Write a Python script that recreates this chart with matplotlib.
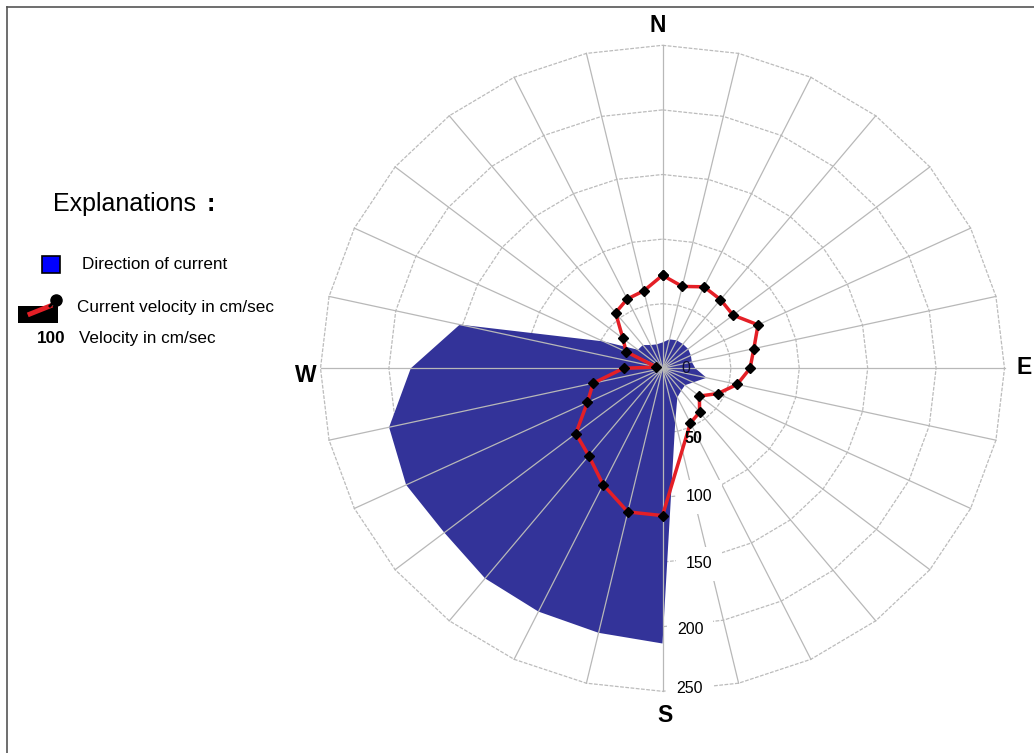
import numpy as np
import matplotlib
matplotlib.use('Agg')
import matplotlib.pyplot as plt
from matplotlib.lines import Line2D
from matplotlib.patches import Rectangle

plt.rcParams['font.family'] = ['Liberation Sans', 'DejaVu Sans']

# 28 compass sectors, bearing in degrees clockwise from north
bearings = np.arange(28) * 360 / 28

# direction of current per sector (blue area)
direction = [20, 23, 24, 24, 24, 23, 22, 24, 33, 25, 21, 22, 25, 42,
             213, 210, 209, 208, 204, 208, 205, 184, 152, 48, 23, 23, 20, 19]

# current velocity in cm/sec per sector, no reading for the 167 deg sector
velocity = [72, 65, 70, 68, 66, 77.5, 68.5, 64, 56, 45, 34.5, 43.5, 47, np.nan,
            114, 114, 100, 86.5, 81, 61, 52, 28.5, 4.5, 29.5, 37, 55, 59.5, 61.5]

rings = [50, 100, 150, 200, 250]
ring_labels = ['0', '50', '100', '150', '200', '250']
compass = ['N', 'E', 'S', 'W']

W, H = 1034, 753
fig = plt.figure(figsize=(W / 100, H / 100), dpi=100)
fig.patch.set_facecolor('white')

# polar area, slightly wider than tall
cx, cy, rx, ry = 662.5, 368.3, 342, 323
ax = fig.add_axes([(cx - rx) / W, (H - cy - ry) / H, 2 * rx / W, 2 * ry / H],
                  projection='polar')
ax.set_theta_zero_location('N')
ax.set_theta_direction(-1)
ax.set_ylim(0, 250)
ax.set_aspect('auto')
ax.grid(False)
ax.set_xticks([])
ax.set_yticks([])
ax.spines['polar'].set_visible(False)
ax.patch.set_alpha(0)

theta = np.deg2rad(bearings)
closed = np.append(theta, theta[0])

# polygon rings and spokes
for r in rings:
    ax.plot(closed, np.full(closed.size, r), color='#bcbcbc', lw=0.9,
            ls=(0, (3, 1.2)), zorder=1, clip_on=False)
for t in theta:
    ax.plot([t, t], [0, 250], color='#b8b8b8', lw=0.9, zorder=3, clip_on=False)

ax.fill(theta, direction, color='#333399', lw=0, zorder=2)

vel = np.array(velocity, dtype=float)
ok = ~np.isnan(vel)
vt = np.append(theta[ok], theta[ok][0])
vr = np.append(vel[ok], vel[ok][0])
ax.plot(vt, vr, color='#e41f26', lw=2.5, marker='D', ms=5.5,
        mfc='black', mec='black', zorder=5, clip_on=False)

# radial scale labels
ax.text(np.deg2rad(90), 17, ring_labels[0], ha='center', va='center',
        fontsize=11.5, color='#111133', zorder=6)
ax.text(np.deg2rad(157.6), 59.1, ring_labels[1], ha='center', va='center',
        fontsize=11.5, fontweight='bold', zorder=7)
box = dict(boxstyle='square,pad=0.6', fc='white', ec='none')
for s, b, r in [(ring_labels[2], 164.9, 103.1), (ring_labels[3], 169.9, 153.6),
                (ring_labels[4], 174.3, 203.5), (ring_labels[5], 175.4, 248.9)]:
    ax.text(np.deg2rad(b), r, s, ha='center', va='center', fontsize=11.5,
            bbox=box, zorder=6)

# compass letters
for s, (x, y) in zip(compass, [(658, 25), (1024, 368), (665, 716), (306, 375)]):
    fig.text(x / W, 1 - y / H, s, ha='center', va='center',
             fontsize=16.5, fontweight='bold')

# explanations block
fig.text(53 / W, 1 - 210.7 / H, 'Explanations', fontsize=18, va='baseline')
fig.text(207 / W, 1 - 210.7 / H, ':', fontsize=18, fontweight='bold', va='baseline')

fig.add_artist(Rectangle((41.7 / W, 1 - 273.3 / H), 18.3 / W, 17.3 / H,
                         transform=fig.transFigure, fc='#0000ff', ec='black', lw=1.2))
fig.text(82 / W, 1 - 269.3 / H, 'Direction of current', fontsize=12.3, va='baseline')

fig.add_artist(Rectangle((18.3 / W, 1 - 322.7 / H), 40 / W, 16.7 / H,
                         transform=fig.transFigure, fc='black', ec='none'))
fig.add_artist(Line2D([30 / W, 50 / W], [1 - 314 / H, 1 - 306 / H],
                      transform=fig.transFigure, color='#e41f26', lw=3.5))
fig.add_artist(Line2D([50 / W, 56 / W], [1 - 306 / H, 1 - 300 / H],
                      transform=fig.transFigure, color='black', lw=2))
fig.add_artist(Line2D([56 / W], [1 - 300 / H], transform=fig.transFigure,
                      marker='o', ms=8, color='black', ls='none'))
fig.text(77.3 / W, 1 - 311.7 / H, 'Current velocity in cm/sec', fontsize=12.3, va='baseline')

fig.text(36.7 / W, 1 - 343.3 / H, '100', fontsize=12.3, fontweight='bold', va='baseline')
fig.text(79.3 / W, 1 - 343.3 / H, 'Velocity in cm/sec', fontsize=12.3, va='baseline')

# frame
fig.add_artist(Line2D([7 / W, 7 / W], [0, 1 - 7 / H], transform=fig.transFigure,
                      color='#555555', lw=1.2))
fig.add_artist(Line2D([7 / W, 1], [1 - 7 / H, 1 - 7 / H], transform=fig.transFigure,
                      color='#555555', lw=1.2))

fig.savefig('out.png', dpi=100)
